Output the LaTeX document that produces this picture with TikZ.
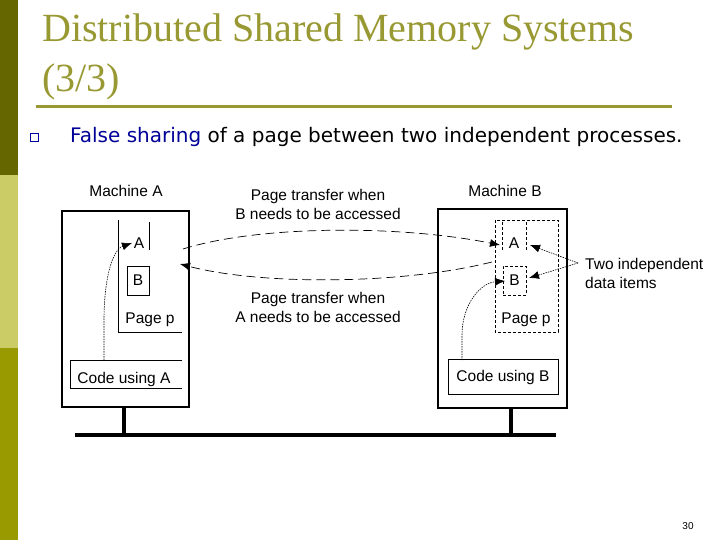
\documentclass[tikz,border=0pt]{standalone}
\usepackage{fontspec}
\setmainfont{Liberation Sans}
\newfontfamily\titlefont{Liberation Serif}
\newfontfamily\verd{DejaVu Sans}
\usetikzlibrary{arrows.meta}
\definecolor{olive}{HTML}{999933}
\definecolor{dkol}{HTML}{666600}
\definecolor{ltol}{HTML}{CCCC66}
\definecolor{mdol}{HTML}{999900}
\definecolor{navy}{HTML}{000099}
\begin{document}
\begin{tikzpicture}[x=1pt,y=-1pt,
  lbl/.style={font=\fontsize{15.5}{19}\selectfont,align=center,inner sep=0pt},
  mach/.style={line width=2.2pt},
  thin/.style={line width=0.6pt},
  dsh/.style={thin,dash pattern=on 3pt off 2pt},
  xfer/.style={line width=0.7pt,dash pattern=on 9pt off 5pt,-{Latex[length=10pt,width=8pt]}},
  dot/.style={line width=0.6pt,dash pattern=on 1.5pt off 1pt,-{Latex[length=10pt,width=8pt]}},
  bus/.style={line width=3.5pt}]
\useasboundingbox (0,0) rectangle (720,540);
\fill[white] (0,0) rectangle (720,540);
\fill[dkol] (0,0) rectangle (18,175);
\fill[ltol] (0,175) rectangle (18,348);
\fill[mdol] (0,348) rectangle (18,540);
% title
\node[anchor=base west,inner sep=0pt,text=olive,font=\titlefont\fontsize{40}{44}\selectfont] (t1) at (42,42) {Distributed Shared Memory Systems};
\node[anchor=base west,inner sep=0pt,text=olive,font=\titlefont\fontsize{40}{44}\selectfont] (t2) at (42,92) {(3/3)};
\draw[olive,line width=3pt] (36,107) -- (672,107);
\node[draw=navy,line width=0.8pt,minimum size=8pt,inner sep=0pt] (bul) at (34,137) {};
\node[anchor=base west,inner sep=0pt,font=\verd\fontsize{20}{22}\selectfont] (sub) at (70,143) {\textcolor{navy}{False sharing} of a page between two independent processes.};
% machine A
\draw[mach] (62,211) rectangle (189,407);
\node[lbl] (ma) at (126,191) {Machine A};
\draw[thin] (118,220) -- (118,332) -- (182,332);
\node[lbl] (aA) at (139,243) {A};
\draw[thin] (149,222) -- (149,250);
\node[lbl,draw,line width=0.6pt,minimum width=22pt,minimum height=29pt] (aB) at (138,280.5) {B};
\node[lbl] (ap) at (150,320) {Page p};
\draw[thin] (182,360) -- (70,360) -- (70,388) -- (182,388);
\node[lbl] (ca) at (124,379) {Code using A};
% machine B
\draw[mach] (438,209) rectangle (567,408);
\node[lbl] (mb) at (505,191) {Machine B};
\draw[dsh] (495,220) rectangle (558,332);
\node[lbl] (bA) at (514,243) {A};
\draw[dsh] (502,222) -- (502,250) (526,222) -- (526,250);
\node[lbl,draw,dsh,minimum width=23pt,minimum height=29pt] (bB) at (514.5,280.5) {B};
\node[lbl] (bp) at (526,320) {Page p};
\node[lbl,draw,line width=0.6pt,minimum width=110pt,minimum height=35pt] (cb) at (503,377) {Code using B};
% network
\coordinate (sa) at (124,407);
\coordinate (sb) at (511,408);
\coordinate (b1) at (75,435);
\coordinate (b2) at (556,435);
\draw[bus] (b1) -- (b2);
\draw[bus] (sa) -- (124,435);
\draw[bus] (sb) -- (511,435);
% transfers
\node[lbl] (t1l) at (318,204) {Page transfer when\\B needs to be accessed};
\node[lbl] (t2l) at (318,307) {Page transfer when\\A needs to be accessed};
\coordinate (p1) at (183,249);
\coordinate (p2) at (500,245);
\draw[xfer] (p1) .. controls (260,225) and (400,225) .. (p2);
\coordinate (q1) at (492,262);
\coordinate (q2) at (180,264);
\draw[xfer] (q1) .. controls (400,285) and (260,285) .. (q2);
% local accesses
\coordinate (ca0) at (104,360);
\coordinate (ca1) at (132,243);
\draw[dot] (ca0) -- (104,320) .. controls (104,280) and (112,250) .. (ca1);
\coordinate (cb0) at (462,360);
\coordinate (cb1) at (505,281);
\draw[dot] (cb0) -- (462,335) .. controls (462,305) and (480,283) .. (cb1);
% two independent
\node[lbl,align=left,anchor=west] (two) at (585,273) {Two independent\\data items};
\coordinate (ti) at (578,263);
\draw[dot] (ti) -- (530,245);
\draw[dot] (ti) -- (529,278);
\node[inner sep=0pt,font=\fontsize{10}{12}\selectfont] (pn) at (688,526) {30};
\end{tikzpicture}
\end{document}
